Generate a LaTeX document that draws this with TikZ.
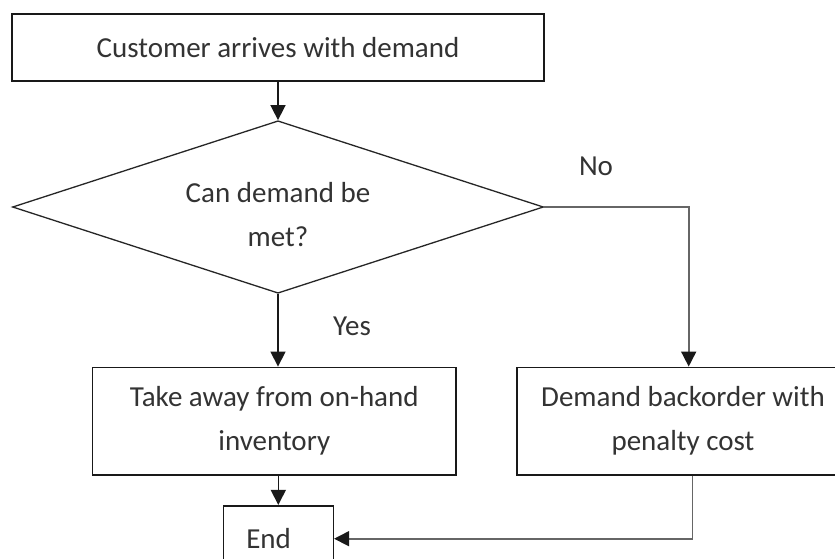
\documentclass[tikz,border=0pt]{standalone}
\usepackage{fontspec}
\setmainfont{Carlito}
\usetikzlibrary{shapes.geometric,arrows.meta}
\begin{document}
\begin{tikzpicture}[x=1pt,y=-1pt,
  font=\fontsize{29}{44}\selectfont,
  every node/.style={text=black!80},
  box/.style={draw=black!90, line width=1.6pt, rectangle, inner sep=0pt, align=center},
  decision/.style={draw=black!85, line width=1.3pt, diamond, aspect=3.08, inner sep=0pt},
  flow/.style={draw=black!90, line width=1.6pt, -{Triangle[width=15pt,length=15pt]}},
  sideflow/.style={draw=black!60, line width=1.6pt, -{Triangle[width=15pt,length=15pt,color=black!90]}},
  tag/.style={inner sep=0pt, align=center}]
  \useasboundingbox (0,0) rectangle (835,558);
  \fill[white] (0,0) rectangle (835,558);

  % process boxes and the decision
  \node[box, minimum width=532, minimum height=66.5] (start) at (278,47.5) {Customer arrives with demand};
  \node[decision, minimum width=531, minimum height=172.5] (ask) at (278,207) {};
  \node[tag] (asktext) at (278,215) {Can demand be\\met?};
  \node[box, minimum width=363.5, minimum height=107.7] (take) at (274.3,421.2) {Take away from on-hand\\inventory};
  \node[box, minimum width=332, minimum height=107.7] (back) at (683,421.2) {Demand backorder with\\penalty cost};
  \node[box, minimum width=110, minimum height=66, text width=64, align=left, inner xsep=23] (fin) at (278.3,538.7) {End};

  % branch labels
  \node[tag] (no) at (596,166) {No};
  \node[tag] (yes) at (352,326.7) {Yes};

  % connectors
  \draw[flow] (ask.north |- start.south) -- (ask.north);
  \draw[flow] (ask.south) -- (ask.south |- take.north);
  \draw[flow] (fin.north |- take.south) -- (fin.north);
  \draw[sideflow] (ask.east) -| ([xshift=5.7]back.north);
  \draw[sideflow] ([xshift=9.3]back.south) |- (fin.east);
\end{tikzpicture}
\end{document}
